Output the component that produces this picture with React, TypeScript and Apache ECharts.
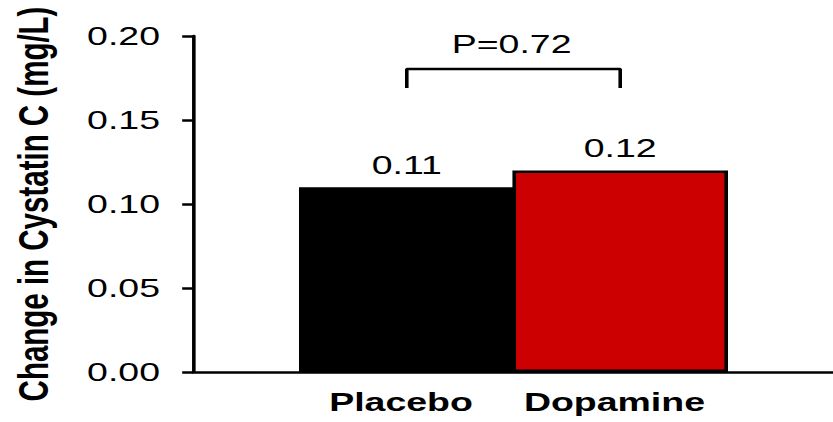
import { useEffect, useRef } from 'react';
import * as echarts from 'echarts';

// chart values
const groups = ['Placebo', 'Dopamine'];
const changes = [0.11, 0.12];
const barColors = ['#000000', '#cc0000'];
const yTicks = [0, 0.05, 0.1, 0.15, 0.2];
const bracketTop = 0.1804;
const bracketFoot = 0.169;
const pLabel = 'P=0.72';

// the original picture is stretched sideways; draw narrow and scale with css
const STRETCH = 1.4412;
const NARROW_W = 578;
const FONT = '"Liberation Sans", Arial, sans-serif';

export default function App() {
  const chartRef = useRef<HTMLDivElement>(null);

  useEffect(() => {
    if (!chartRef.current) return;
    const chart = echarts.init(chartRef.current, undefined, { renderer: 'svg' });

    const option: echarts.EChartsOption = {
      animation: false,
      backgroundColor: '#ffffff',
      textStyle: { fontFamily: FONT, color: '#000' },
      grid: [
        { left: 134, right: 0, top: 36, bottom: 50 },
        { left: 208.2, right: 73.6, top: 36, bottom: 50 },
      ],
      xAxis: [
        {
          gridIndex: 0,
          type: 'value',
          min: 0,
          max: 1,
          axisLine: { show: true, onZero: false, lineStyle: { color: '#000', width: 2.5 } },
          axisTick: { show: false },
          axisLabel: { show: false },
          splitLine: { show: false },
        },
        {
          gridIndex: 1,
          type: 'category',
          data: groups,
          axisLine: { show: false },
          axisTick: { show: false },
          axisLabel: {
            interval: 0,
            hideOverlap: false,
            margin: 17,
            padding: [0, 8, 0, 0],
            fontSize: 26,
            fontWeight: 'bold',
            fontFamily: FONT,
            color: '#000',
          },
        },
      ],
      yAxis: [
        {
          gridIndex: 0,
          type: 'value',
          min: yTicks[0],
          max: yTicks[yTicks.length - 1],
          interval: 0.05,
          name: 'Change in Cystatin C (mg/L)',
          nameLocation: 'middle',
          nameGap: 96,
          nameTextStyle: {
            fontSize: 29.5,
            fontWeight: 'bold',
            fontFamily: FONT,
            color: '#000',
          },
          axisLine: { show: true, lineStyle: { color: '#000', width: 2.5 } },
          axisTick: { show: true, length: 7.6, lineStyle: { color: '#000', width: 2.5 } },
          axisLabel: {
            margin: 23,
            fontSize: 26,
            fontFamily: FONT,
            color: '#000',
            formatter: (v: number) => v.toFixed(2),
          },
          splitLine: { show: false },
        },
        {
          gridIndex: 1,
          type: 'value',
          min: yTicks[0],
          max: yTicks[yTicks.length - 1],
          show: false,
          splitLine: { show: false },
        },
      ],
      series: [
        {
          type: 'bar',
          xAxisIndex: 1,
          yAxisIndex: 1,
          barWidth: '101%',
          data: changes.map((v, i) => ({
            value: v,
            itemStyle: { color: barColors[i], borderColor: '#000', borderWidth: 2.5 },
          })),
          label: {
            show: true,
            position: 'top',
            distance: 9,
            fontSize: 26,
            fontFamily: FONT,
            color: '#000',
            formatter: (p: any) => Number(p.value).toFixed(2),
          },
        },
        {
          type: 'line',
          xAxisIndex: 1,
          yAxisIndex: 1,
          symbol: 'none',
          silent: true,
          lineStyle: { color: '#000', width: 2.5 },
          data: [
            [0, bracketFoot],
            [0, bracketTop],
            [1, bracketTop],
            [1, bracketFoot],
          ],
        },
      ],
      graphic: [
        {
          type: 'text',
          x: 355,
          y: 31,
          style: {
            text: pLabel,
            fontSize: 26,
            fontFamily: FONT,
            fill: '#000',
            align: 'center',
            verticalAlign: 'top',
          },
        },
      ],
    };

    chart.setOption(option);
    return () => chart.dispose();
  }, []);

  return (
    <div
      style={{
        position: 'fixed',
        left: 0,
        top: 0,
        width: 833,
        height: 422,
        overflow: 'hidden',
        background: '#fff',
      }}
    >
      <div
        ref={chartRef}
        style={{
          width: NARROW_W,
          height: 422,
          transform: `scaleX(${STRETCH})`,
          transformOrigin: '0 0',
        }}
      />
    </div>
  );
}
